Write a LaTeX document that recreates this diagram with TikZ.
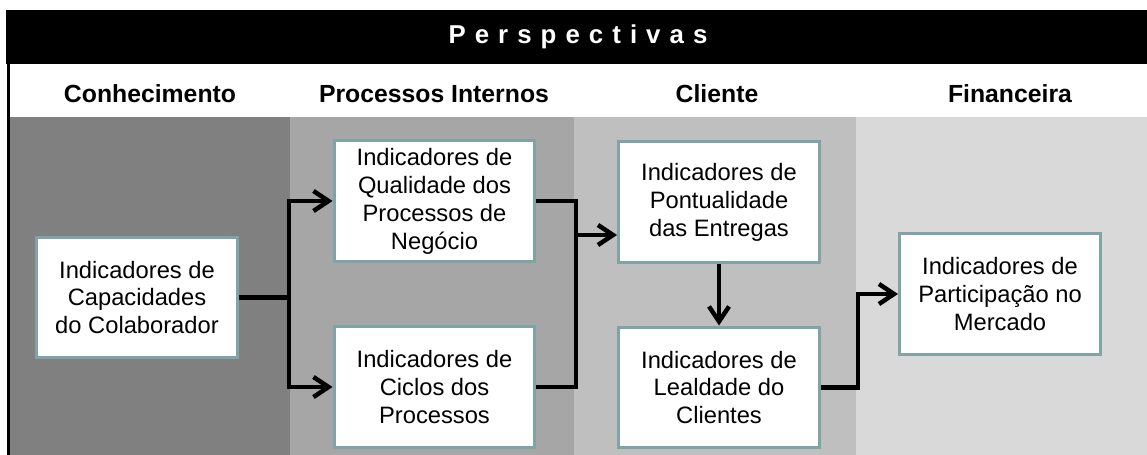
\documentclass[tikz,border=0pt]{standalone}
\usepackage{fontspec}
\setmainfont{Liberation Sans}
\usetikzlibrary{positioning, arrows.meta}
\definecolor{colconhec}{RGB}{128, 128, 128}
\definecolor{colproc}{RGB}{166, 166, 166}
\definecolor{colcli}{RGB}{191, 191, 191}
\definecolor{colfin}{RGB}{217, 217, 217}
\definecolor{bordecaja}{RGB}{128, 163, 168}

\begin{document}
\begin{tikzpicture}[
                x=0.02cm, y=-0.02cm,
                caja/.style={draw=bordecaja, fill=white, line width=0.06cm, minimum width=4.02cm, minimum height=2.42cm, align=center, inner sep=2pt, font=\fontsize{13.5}{15.9}\selectfont},
                cabecera/.style={font=\fontsize{14.1}{16}\selectfont\bfseries, anchor=base},
                linea/.style={line width=0.09cm},
                flecha/.style={linea, -{Straight Barb[length=0.3cm, width=0.4cm]}}
            ]
                \useasboundingbox (0,0) rectangle (1147,455);

                % Columnas de fondo
                \fill[colconhec] (10,117) rectangle (290,455);
                \fill[colproc] (290,117) rectangle (574,455);
                \fill[colcli] (574,117) rectangle (856,455);
                \fill[colfin] (856,117) rectangle (1147,455);

                % Barra del título
                \fill[black] (6,10) rectangle (1147,64);
                \draw[black, line width=0.06cm] (8.5,10) -- (8.5,455);
                \node[font=\fontsize{14.7}{16}\selectfont\bfseries, text=white] (titulo) at (578,37) {\addfontfeature{LetterSpace=35}Perspectivas};

                % Cabeceras de las columnas
                \node[cabecera] (hconhec) at (150,103) {Conhecimento};
                \node[cabecera] (hproc) at (434,103) {Processos Internos};
                \node[cabecera] (hcli) at (717,103) {Cliente};
                \node[cabecera] (hfin) at (1010,103) {Financeira};

                % Indicadores
                \node[caja] (capac) at (137,297.5) {Indicadores de\\Capacidades\\do Colaborador};
                \node[caja] (qualid) at (434.5,201) {Indicadores de\\Qualidade dos\\Processos de\\Negócio};
                \node[caja] (ciclos) at (434.5,387) {Indicadores de\\Ciclos dos\\Processos};
                \node[caja] (pontual) at (719,202) {Indicadores de\\Pontualidade\\das Entregas};
                \node[caja] (lealdade) at (719,387.5) {Indicadores de\\Lealdade do\\Clientes};
                \node[caja] (partic) at (1000,294) {Indicadores de\\Participação no\\Mercado};

                % Conectores
                \draw[flecha] (capac.east) -- ++(50,0) |- (qualid.west);
                \draw[flecha] (capac.east) -- ++(50,0) |- (ciclos.west);
                \coordinate (union) at (576,235);
                \draw[linea] (qualid.east) -| (union);
                \draw[linea] (ciclos.east) -| (union);
                \draw[flecha] (union) -- (union -| pontual.west);
                \draw[flecha] (pontual.south) -- (lealdade.north);
                \draw[flecha] (lealdade.east) -- ++(37,0) |- (partic.west);
            \end{tikzpicture}
\end{document}
